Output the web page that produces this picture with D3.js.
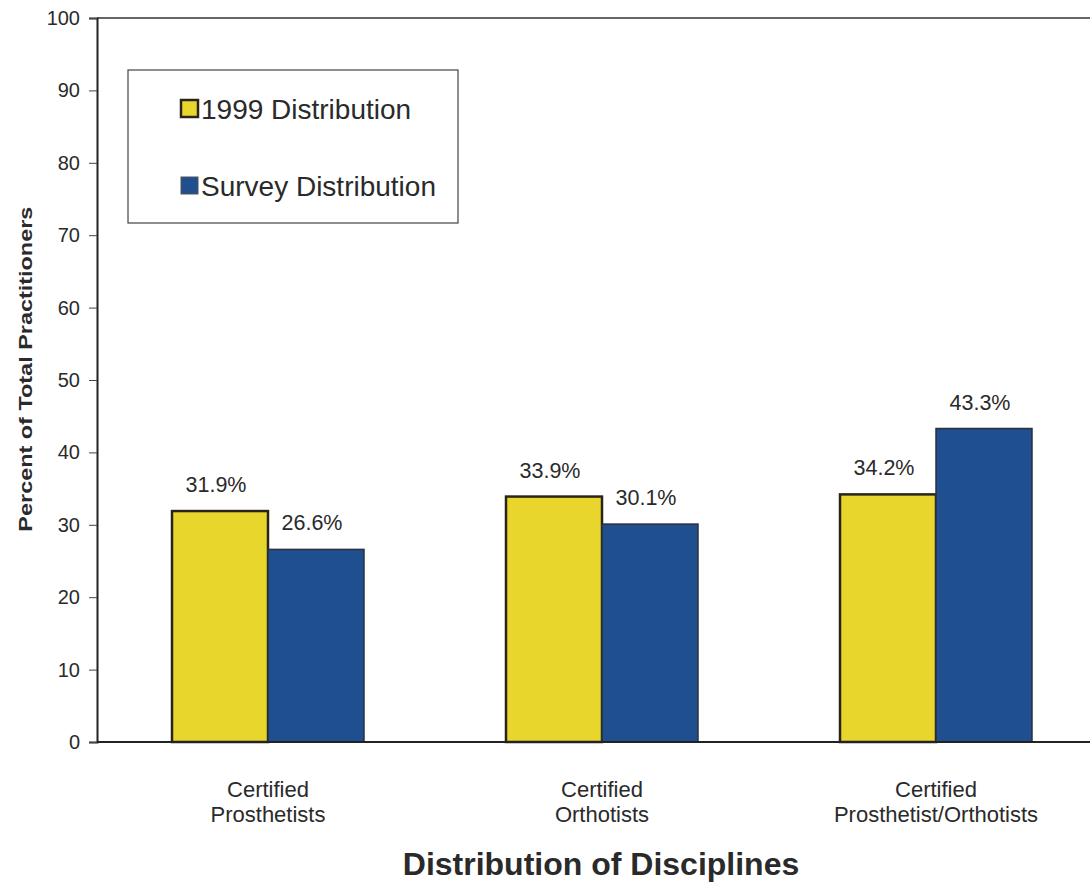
<!DOCTYPE html>
<html>
<head>
<meta charset="utf-8">
<script src="https://d3js.org/d3.v7.min.js"></script>
<style>
body { margin: 0; background: #fff; }
text { font-family: "Liberation Sans", Arial, sans-serif; fill: #2a2a2a; }
</style>
</head>
<body>
<div id="chart"></div>
<script>
var categories = [["Certified", "Prosthetists"], ["Certified", "Orthotists"], ["Certified", "Prosthetist/Orthotists"]];
var seriesNames = ["1999 Distribution", "Survey Distribution"];
var values1999 = [31.9, 33.9, 34.2];
var valuesSurvey = [26.6, 30.1, 43.3];
var yTicks = [0, 10, 20, 30, 40, 50, 60, 70, 80, 90, 100];
var colors = ["#e8d62c", "#1f4f8e"];

var width = 1090, height = 884;
var margin = {top: 18, left: 97, bottom: 142};

var svg = d3.select("#chart").append("svg")
    .attr("width", width)
    .attr("height", height);

var y = d3.scaleLinear()
    .domain([0, 100])
    .range([height - margin.bottom, margin.top]);

var x0 = d3.scaleBand()
    .domain(d3.range(categories.length))
    .range([101, 1103])
    .padding(0);

var x1 = d3.scaleBand()
    .domain([0, 1])
    .range([-96, 96]);

// frame: top line, left axis, bottom axis
svg.append("line")
    .attr("x1", margin.left).attr("x2", width)
    .attr("y1", y(100)).attr("y2", y(100))
    .attr("stroke", "#333").attr("stroke-width", 1.5);

svg.append("g")
    .attr("transform", "translate(" + margin.left + ",0)")
    .call(d3.axisLeft(y).tickValues(yTicks).tickSize(8).tickPadding(9))
    .call(function(g) {
        g.select(".domain").attr("stroke", "#222").attr("stroke-width", 2);
        g.selectAll(".tick line").attr("stroke", "#444");
        g.selectAll(".tick text")
            .style("font-family", "'Liberation Sans', Arial, sans-serif")
            .style("font-size", "20px")
            .attr("fill", "#2a2a2a");
    });

var groups = categories.map(function(c, i) {
    return [{s: 0, v: values1999[i]}, {s: 1, v: valuesSurvey[i]}];
});

var g = svg.selectAll(".grp")
    .data(groups)
    .enter().append("g")
    .attr("class", "grp")
    .attr("transform", function(d, i) { return "translate(" + (x0(i) + x0.bandwidth() / 2) + ",0)"; });

g.selectAll("rect")
    .data(function(d) { return d; })
    .enter().append("rect")
    .attr("x", function(d) { return x1(d.s); })
    .attr("y", function(d) { return y(d.v); })
    .attr("width", x1.bandwidth())
    .attr("height", function(d) { return y(0) - y(d.v); })
    .attr("fill", function(d) { return colors[d.s]; })
    .attr("stroke", function(d) { return d.s == 0 ? "#2a2418" : "#2a3040"; })
    .attr("stroke-width", function(d) { return d.s == 0 ? 2.5 : 1.5; });

g.selectAll(".lbl")
    .data(function(d) { return d; })
    .enter().append("text")
    .attr("class", "lbl")
    .attr("x", function(d) { return x1(d.s) + x1.bandwidth() / 2 - 4; })
    .attr("y", function(d) { return y(d.v) - 19; })
    .attr("text-anchor", "middle")
    .style("font-size", "21.5px")
    .text(function(d) { return d.v.toFixed(1) + "%"; });

// x axis line
svg.append("line")
    .attr("x1", margin.left).attr("x2", width)
    .attr("y1", y(0)).attr("y2", y(0))
    .attr("stroke", "#222").attr("stroke-width", 2);

// category labels
var cl = svg.selectAll(".cat")
    .data(categories)
    .enter().append("text")
    .attr("class", "cat")
    .attr("text-anchor", "middle")
    .attr("x", function(d, i) { return x0(i) + x0.bandwidth() / 2; })
    .attr("y", 797)
    .style("font-size", "22px");
cl.append("tspan").text(function(d) { return d[0]; });
cl.append("tspan")
    .attr("x", function(d, i) { return x0(i) + x0.bandwidth() / 2; })
    .attr("dy", 25)
    .text(function(d) { return d[1]; });

// axis titles
svg.append("text")
    .attr("x", 601).attr("y", 875)
    .attr("text-anchor", "middle")
    .style("font-size", "32px").style("font-weight", "bold")
    .text("Distribution of Disciplines");

svg.append("text")
    .attr("transform", "translate(32," + y(51.5) + ") rotate(-90)")
    .attr("text-anchor", "middle")
    .attr("textLength", 325)
    .attr("lengthAdjust", "spacingAndGlyphs")
    .style("font-size", "19px").style("font-weight", "bold")
    .text("Percent of Total Practitioners");

// legend
var legend = svg.append("g").attr("transform", "translate(128,70)");
legend.append("rect")
    .attr("width", 330).attr("height", 153)
    .attr("fill", "#fff").attr("stroke", "#444").attr("stroke-width", 1.2);

var li = legend.selectAll(".li")
    .data(seriesNames)
    .enter().append("g")
    .attr("class", "li")
    .attr("transform", function(d, i) { return "translate(53," + (30 + i * 77) + ")"; });
li.append("rect")
    .attr("width", 17).attr("height", 17)
    .attr("fill", function(d, i) { return colors[i]; })
    .attr("stroke", function(d, i) { return i == 0 ? "#2a2418" : "#555"; })
    .attr("stroke-width", function(d, i) { return i == 0 ? 2.5 : 1; });
li.append("text")
    .attr("x", 20).attr("y", 19)
    .style("font-size", "28px")
    .text(function(d) { return d; });
</script>
</body>
</html>
